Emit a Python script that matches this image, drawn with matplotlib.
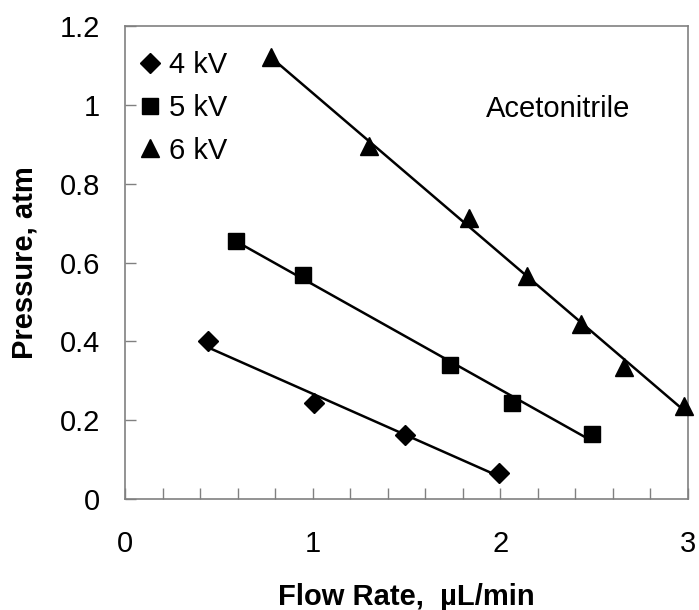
import numpy as np
import matplotlib
matplotlib.use("Agg")
from matplotlib import pyplot as plt
from matplotlib.ticker import MultipleLocator, FuncFormatter

plt.rcParams['font.family'] = ['Liberation Sans', 'DejaVu Sans']

# data
flow_4kv = [0.44, 1.005, 1.49, 1.995]
pres_4kv = [0.40, 0.243, 0.163, 0.066]

flow_5kv = [0.59, 0.947, 1.734, 2.06, 2.49]
pres_5kv = [0.655, 0.568, 0.339, 0.244, 0.165]

flow_6kv = [0.78, 1.30, 1.835, 2.14, 2.43, 2.66, 2.98]
pres_6kv = [1.122, 0.895, 0.714, 0.567, 0.443, 0.335, 0.237]

labels = ['4 kV', '5 kV', '6 kV']
markers = ['D', 's', '^']
sizes = [10, 11, 13]


def main():
  fig = plt.figure(figsize=(6.99, 6.10), dpi=100)
  ax = fig.add_axes([0.179, 0.182, 0.805, 0.775])

  series = [(flow_4kv, pres_4kv), (flow_5kv, pres_5kv), (flow_6kv, pres_6kv)]
  for (x, y), lab, m, ms in zip(series, labels, markers, sizes):
    x = np.array(x)
    y = np.array(y)
    ax.plot(x, y, linestyle='none', marker=m, ms=ms, color='black', label=lab,
            clip_on=False, zorder=3)
    # linear trendline over the data range
    k, b = np.polyfit(x, y, 1)
    xs = np.array([x.min(), x.max()])
    ax.plot(xs, k * xs + b, color='black', lw=1.8, zorder=2)

  ax.set_xlim(0, 3)
  ax.set_ylim(0, 1.2)
  ax.xaxis.set_major_locator(MultipleLocator(0.2))
  ax.xaxis.set_major_formatter(FuncFormatter(
    lambda v, p: '%d' % round(v) if abs(v - round(v)) < 1e-6 else ''))
  ax.yaxis.set_major_locator(MultipleLocator(0.2))
  ax.yaxis.set_major_formatter(FuncFormatter(lambda v, p: '%g' % round(v, 1)))

  for s in ax.spines.values():
    s.set_color('#808080')
    s.set_linewidth(1.2)
  ax.tick_params(axis='both', direction='in', length=8, width=1, color='#808080',
                 labelsize=21)
  ax.tick_params(axis='y', pad=18)
  ax.tick_params(axis='x', pad=22)

  ax.set_xlabel('Flow Rate,  \u00b5L/min', fontsize=21, fontweight='bold', labelpad=18)
  ax.set_ylabel('Pressure, atm', fontsize=21, fontweight='bold', labelpad=15)

  ax.text(2.31, 0.99, 'Acetonitrile', fontsize=21, ha='center', va='center')

  ax.legend(loc='upper left', bbox_to_anchor=(-0.01, 0.99), frameon=False,
            fontsize=21, handlelength=0.7, handletextpad=0.3, labelspacing=0.5,
            borderaxespad=0.3)

  fig.savefig('out.png', dpi=100)


if __name__ == '__main__':
  main()
